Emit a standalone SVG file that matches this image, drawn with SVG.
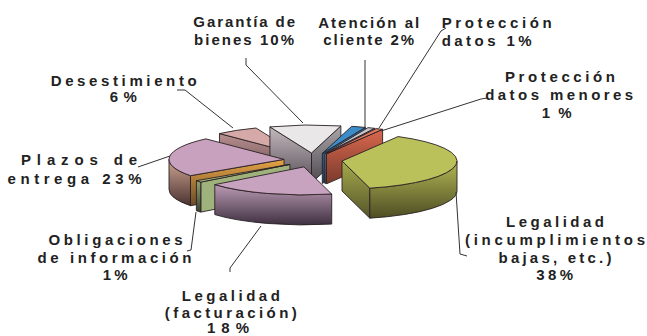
<svg xmlns="http://www.w3.org/2000/svg" width="647" height="336" viewBox="0 0 647 336">
<style>
.e{stroke:#2a2024;stroke-width:0.9;stroke-linejoin:round}
.t{font-family:"Liberation Sans",Arial,sans-serif;font-weight:bold;font-size:15px;fill:#222;text-anchor:middle}
.ld{fill:none;stroke:#333;stroke-width:1}
</style>
<defs>
<linearGradient id="gG" x1="0" y1="0" x2="0" y2="1"><stop offset="0" stop-color="#b3b853"/><stop offset="1" stop-color="#4d4d24"/></linearGradient>
<linearGradient id="gGs" x1="0" y1="0" x2="0" y2="1"><stop offset="0" stop-color="#a6ab4c"/><stop offset="1" stop-color="#55552a"/></linearGradient>
<linearGradient id="gP" x1="0" y1="0" x2="0" y2="1"><stop offset="0" stop-color="#bb9bb4"/><stop offset="1" stop-color="#3e3040"/></linearGradient>
<linearGradient id="gZ" x1="0" y1="0" x2="0" y2="1"><stop offset="0" stop-color="#cfa593"/><stop offset="1" stop-color="#4a3230"/></linearGradient>
<linearGradient id="gZs" x1="0" y1="0" x2="0" y2="1"><stop offset="0" stop-color="#e6a445"/><stop offset="1" stop-color="#6a4a28"/></linearGradient>
<linearGradient id="gO" x1="0" y1="0" x2="0" y2="1"><stop offset="0" stop-color="#93a472"/><stop offset="1" stop-color="#3a4030"/></linearGradient>
<linearGradient id="gD" x1="0" y1="0" x2="0" y2="1"><stop offset="0" stop-color="#b89090"/><stop offset="1" stop-color="#5a4040"/></linearGradient>
<linearGradient id="gW1" x1="0" y1="0" x2="0" y2="1"><stop offset="0" stop-color="#c2b9be"/><stop offset="1" stop-color="#5a5058"/></linearGradient>
<linearGradient id="gW2" x1="0" y1="0" x2="0" y2="1"><stop offset="0" stop-color="#aba6aa"/><stop offset="1" stop-color="#4c484c"/></linearGradient>
<linearGradient id="gB" x1="0" y1="0" x2="0" y2="1"><stop offset="0" stop-color="#2f7cb8"/><stop offset="1" stop-color="#1c3c58"/></linearGradient>
<linearGradient id="gR" x1="0" y1="0" x2="0" y2="1"><stop offset="0" stop-color="#d9684e"/><stop offset="1" stop-color="#7a3a2c"/></linearGradient>
</defs>
<rect width="647" height="336" fill="#fff"/>

<g id="desestimiento">
<path class="e" fill="url(#gD)" d="M297.6,154.1 L219.47,133.56 L219.47,163.56 L297.6,184.1 Z"/>
<path class="e" fill="#d6a9a9" d="M297.6,154.1 L219.47,133.56 A115 28 0 0 1 256.02,128 Z"/>
<text class="t" x="123.7" y="86" textLength="146" lengthAdjust="spacing">Desestimiento</text>
<text class="t" x="123.3" y="101.7" textLength="27" lengthAdjust="spacing">6%</text>
</g>

<g id="garantia">
<path class="e" fill="url(#gW1)" d="M311.5,153 L269.92,126.9 L269.92,156.9 L311.5,183 Z"/>
<path class="e" fill="url(#gW2)" d="M311.5,153 L340.87,125.93 L340.87,155.93 L311.5,183 Z"/>
<path class="e" fill="#e9e7e8" d="M311.5,153 L269.92,126.9 A115 28 0 0 1 340.87,125.93 Z"/>
<text class="t" x="244.2" y="27.3" textLength="101.7" lengthAdjust="spacing">Garantía de</text>
<text class="t" x="244" y="45" textLength="100" lengthAdjust="spacing">bienes 10%</text>
</g>

<g id="atencion">
<path class="e" fill="url(#gB)" d="M322.3,153.4 L365.38,127.44 L365.38,157.44 L322.3,183.4 Z"/>
<path class="e" fill="#3c8cc8" d="M322.3,153.4 L351.67,126.33 A115 28 0 0 1 365.38,127.44 Z"/>
<text class="t" x="368.7" y="28.3" textLength="101" lengthAdjust="spacing">Atención al</text>
<text class="t" x="368.7" y="45" textLength="91" lengthAdjust="spacing">cliente 2%</text>
</g>

<g id="proteccion-datos">
<path class="e" fill="url(#gW2)" d="M324.9,153.6 L374.59,128.35 L374.59,158.35 L324.9,183.6 Z"/>
<path class="e" fill="#c8c4c8" d="M324.9,153.6 L367.98,127.64 A115 28 0 0 1 374.59,128.35 Z"/>
<text class="t" x="496.7" y="28.3" textLength="110" lengthAdjust="spacing">Protección</text>
<text class="t" x="486.7" y="46" textLength="90" lengthAdjust="spacing">datos 1%</text>
</g>

<g id="proteccion-menores">
<path class="e" fill="url(#gR)" d="M326.5,153.8 L382.61,129.36 L382.61,159.36 L326.5,183.8 Z"/>
<path class="e" fill="#e07860" d="M326.5,153.8 L376.19,128.55 A115 28 0 0 1 382.61,129.36 Z"/>
<text class="t" x="560" y="81.7" textLength="110" lengthAdjust="spacing">Protección</text>
<text class="t" x="559.2" y="100" textLength="148" lengthAdjust="spacing">datos menores</text>
<text class="t" x="556.7" y="118.3" textLength="30" lengthAdjust="spacing">1%</text>
</g>

<g id="plazos">
<path class="e" fill="url(#gZs)" d="M284,159.4 L190.49,175.7 L190.49,205.7 L284,189.4 Z"/>
<path class="e" fill="url(#gZ)" d="M190.49,175.7 A115 28 0 0 1 169,159.4 L169,189.4 A115 28 0 0 0 190.49,205.7 Z"/>
<path class="e" fill="#c7a1be" d="M284,159.4 L190.49,175.7 A115 28 0 0 1 205.87,138.86 Z"/>
<text class="t" x="79" y="165" textLength="116" lengthAdjust="spacing">Plazos de</text>
<text class="t" x="74.5" y="184" textLength="134" lengthAdjust="spacing">entrega 23%</text>
</g>

<g id="legalidad-incumplimientos">
<path class="e" fill="url(#gGs)" d="M342,161 L369.82,188.17 L369.82,218.17 L342,191 Z"/>
<path class="e" fill="url(#gG)" d="M457,161 A115 28 0 0 1 369.82,188.17 L369.82,218.17 A115 28 0 0 0 457,191 Z"/>
<path class="e" fill="#bbc15a" d="M342,161 L398.11,136.56 A115 28 0 0 1 369.82,188.17 Z"/>
<text class="t" x="555" y="226.7" textLength="98" lengthAdjust="spacing">Legalidad</text>
<text class="t" x="555" y="245" textLength="180" lengthAdjust="spacing">(incumplimientos</text>
<text class="t" x="555" y="263.3" textLength="113" lengthAdjust="spacing">bajas, etc.)</text>
<text class="t" x="554.7" y="280" textLength="37" lengthAdjust="spacing">38%</text>
</g>

<g id="obligaciones">
<path class="e" fill="#9fb27c" d="M289.9,164.4 L200.79,182.1 L200.79,212.1 L289.9,194.4 Z"/>
<path class="e" fill="url(#gO)" d="M200.79,182.1 A115 28 0 0 1 196.39,180.7 L196.39,210.7 A115 28 0 0 0 200.79,212.1 Z"/>
<path class="e" fill="#a8b880" d="M289.9,164.4 L200.79,182.1 A115 28 0 0 1 196.39,180.7 Z"/>
<text class="t" x="115.5" y="245" textLength="134" lengthAdjust="spacing">Obligaciones</text>
<text class="t" x="114.5" y="262.7" textLength="154" lengthAdjust="spacing">de información</text>
<text class="t" x="115.2" y="280" textLength="25" lengthAdjust="spacing">1%</text>
</g>

<g id="legalidad-facturacion">
<path class="e" fill="url(#gP)" d="M331.72,194.07 A115 28 0 0 1 214.79,184.6 L214.79,214.6 A115 28 0 0 0 331.72,224.07 Z"/>
<path class="e" fill="#c8a3c0" d="M303.9,166.9 L331.72,194.07 A115 28 0 0 1 214.79,184.6 Z"/>
<text class="t" x="230.8" y="300.5" textLength="98" lengthAdjust="spacing">Legalidad</text>
<text class="t" x="230.8" y="317.5" textLength="132" lengthAdjust="spacing">(facturación)</text>
<text class="t" x="228" y="333" textLength="42" lengthAdjust="spacing">18%</text>
</g>

<g id="connectors">
<path class="ld" d="M246,58 L246,65 L303,123"/>
<path class="ld" d="M177,90 L185,90 L233,128"/>
<path class="ld" d="M365,60 L365,127"/>
<path class="ld" d="M446,28 L441,31 L379,128"/>
<path class="ld" d="M487,98 L481,99 L381,131"/>
<path class="ld" d="M138,167 L170,156"/>
<path class="ld" d="M196,212 L191,250 L187,251"/>
<path class="ld" d="M261,226 L230,268 L230,272"/>
<path class="ld" d="M456,192 L460,254 L467,256"/>
</g>
</svg>
